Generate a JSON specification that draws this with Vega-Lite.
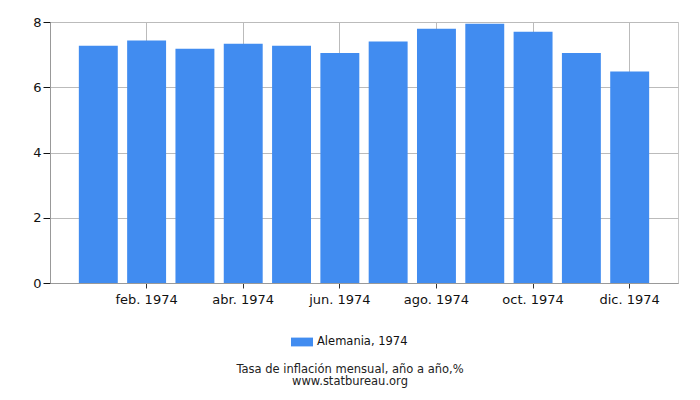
{
  "$schema": "https://vega.github.io/schema/vega-lite/v6.json",
  "width": 628,
  "height": 261,
  "autosize": {"type": "none"},
  "padding": {"left": 50, "top": 22, "right": 22, "bottom": 117},
  "background": "white",
  "config": {
    "font": "DejaVu Sans",
    "view": {"stroke": "#c8c8c8"}
  },
  "title": {
    "text": "Tasa de inflación mensual, año a año,%",
    "subtitle": "www.statbureau.org",
    "orient": "bottom",
    "anchor": "middle",
    "offset": 16,
    "dx": -14,
    "font": "DejaVu Sans",
    "subtitleFont": "DejaVu Sans",
    "fontSize": 11.5,
    "subtitleFontSize": 11.5,
    "fontWeight": "normal",
    "color": "#222",
    "subtitleColor": "#222",
    "subtitlePadding": 0
  },
  "data": {
    "values": [
      {"mes": "ene. 1974", "valor": 7.27},
      {"mes": "feb. 1974", "valor": 7.43},
      {"mes": "mar. 1974", "valor": 7.18},
      {"mes": "abr. 1974", "valor": 7.33},
      {"mes": "may. 1974", "valor": 7.27},
      {"mes": "jun. 1974", "valor": 7.05},
      {"mes": "jul. 1974", "valor": 7.40},
      {"mes": "ago. 1974", "valor": 7.79},
      {"mes": "sep. 1974", "valor": 7.95},
      {"mes": "oct. 1974", "valor": 7.70},
      {"mes": "nov. 1974", "valor": 7.05},
      {"mes": "dic. 1974", "valor": 6.48}
    ]
  },
  "mark": {"type": "bar", "color": "#418cf0"},
  "encoding": {
    "x": {
      "field": "mes",
      "type": "ordinal",
      "sort": null,
      "scale": {"paddingInner": 0.194, "paddingOuter": 0.597},
      "axis": {
        "title": null,
        "values": ["feb. 1974", "abr. 1974", "jun. 1974", "ago. 1974", "oct. 1974", "dic. 1974"],
        "labelAngle": 0,
        "bandPosition": 0.5,
        "grid": true,
        "gridColor": "#bbbbbb",
        "domainColor": "#999999",
        "tickColor": "#333333",
        "tickSize": 5,
        "labelFontSize": 13,
        "labelColor": "#111111",
        "labelPadding": 5
      }
    },
    "y": {
      "field": "valor",
      "type": "quantitative",
      "scale": {"domain": [0, 8]},
      "axis": {
        "title": null,
        "values": [0, 2, 4, 6, 8],
        "grid": true,
        "gridColor": "#bbbbbb",
        "domainColor": "#999999",
        "tickColor": "#111111",
        "tickSize": 7,
        "labelFontSize": 13,
        "labelColor": "#111111",
        "labelPadding": 2
      }
    },
    "color": {
      "datum": "Alemania, 1974",
      "scale": {"range": ["#418cf0"]},
      "legend": {
        "title": null,
        "orient": "none",
        "legendX": 241,
        "legendY": 309,
        "symbolType": "M-1,-0.4H1V0.4H-1Z",
        "symbolSize": 484,
        "symbolStrokeWidth": 0,
        "symbolOpacity": 1,
        "labelFontSize": 11.5,
        "labelColor": "#111111",
        "labelOffset": 4,
        "padding": 0
      }
    }
  }
}
